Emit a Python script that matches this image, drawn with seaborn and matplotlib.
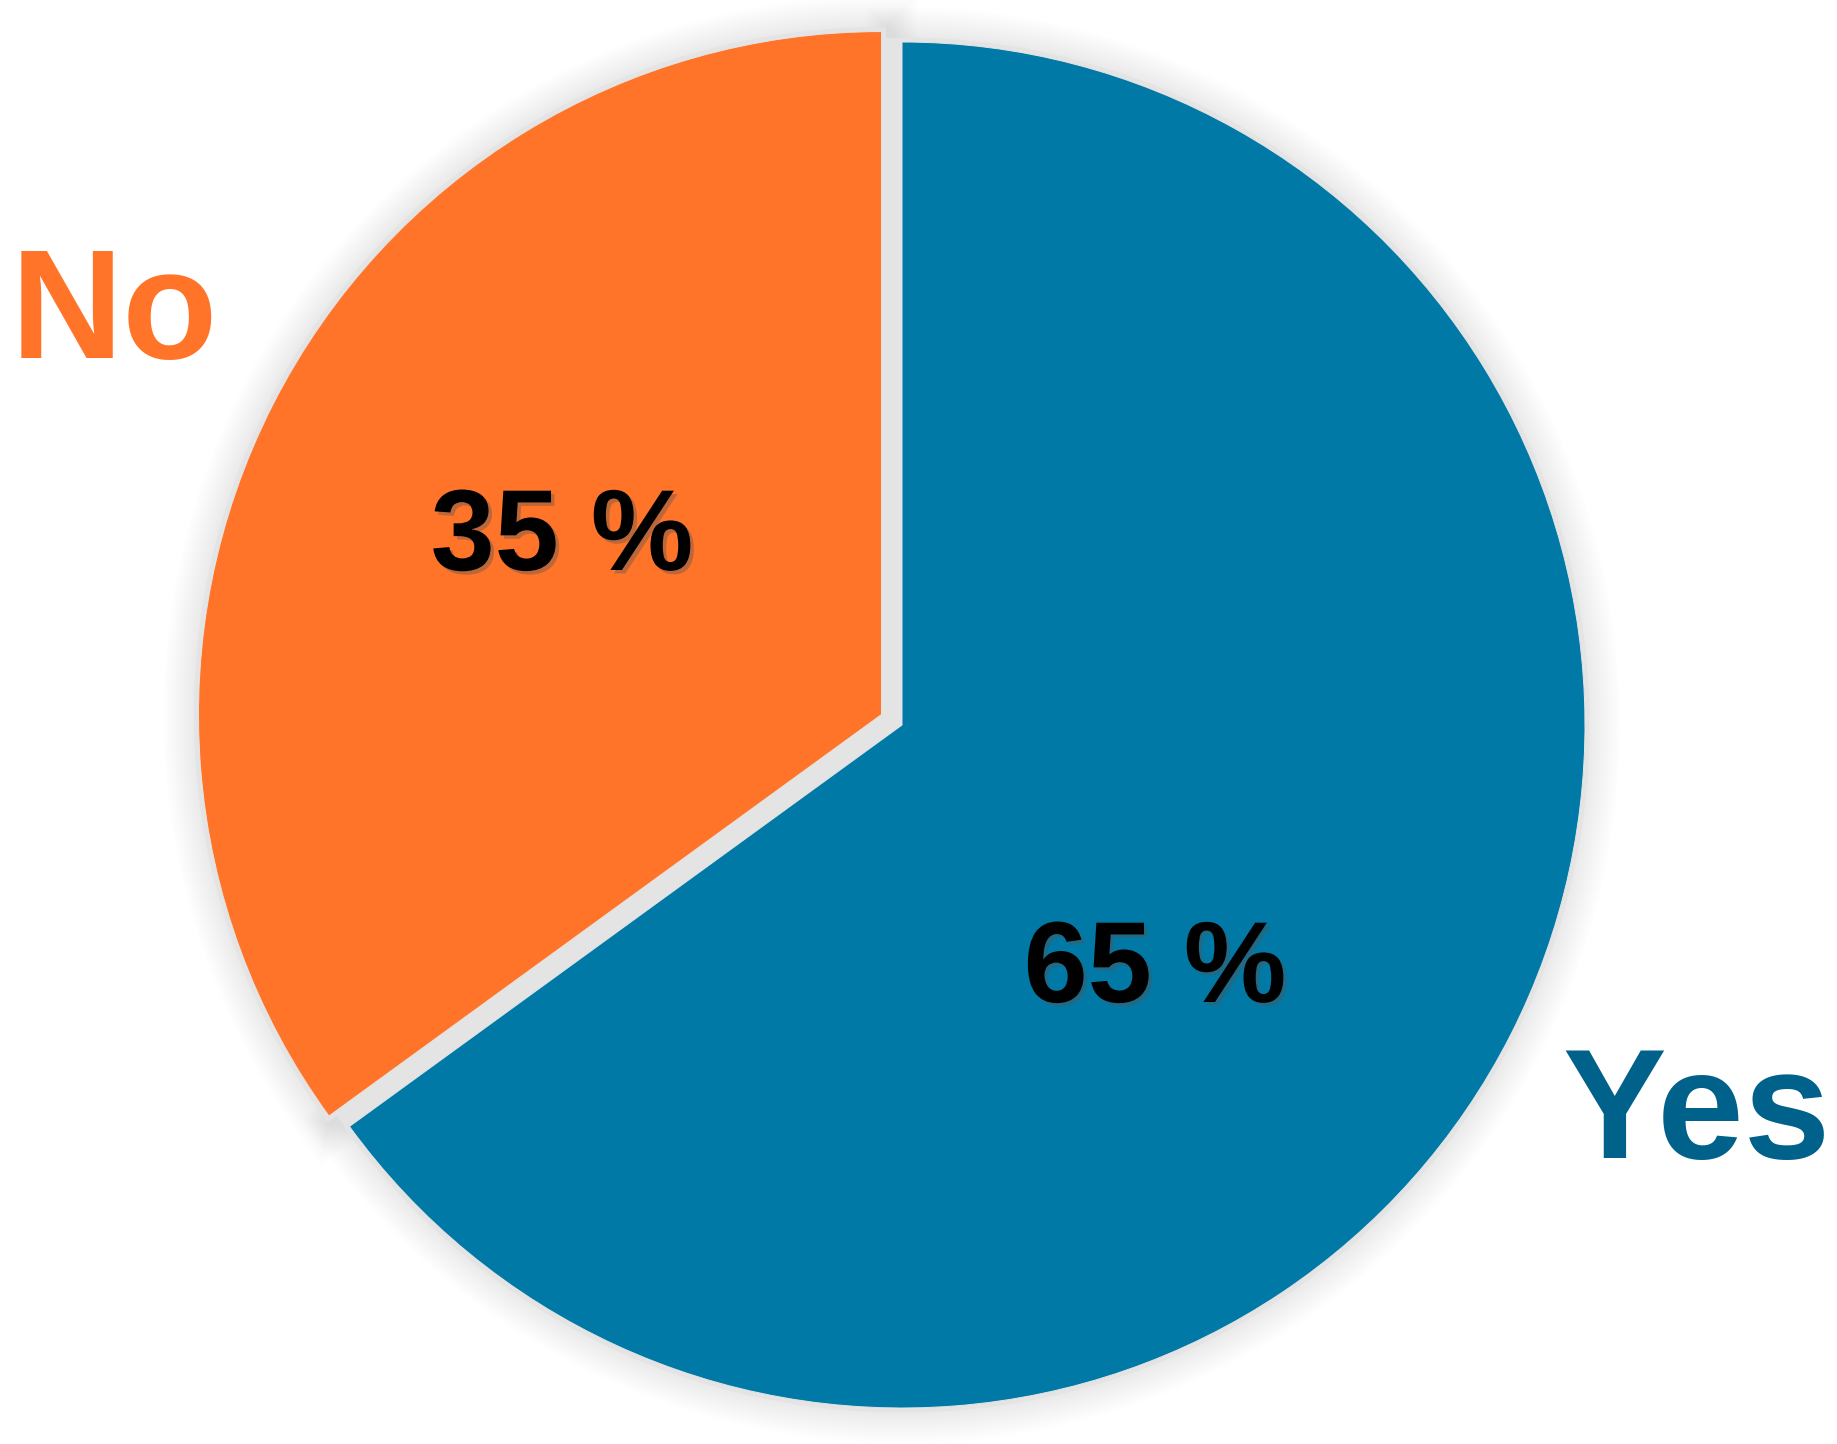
import matplotlib
matplotlib.use("Agg")
import matplotlib.pyplot as plt
import matplotlib.patheffects as pe
import seaborn as sns

categories = ["Yes", "No"]
values = [65, 35]
pct_labels = ["65 %", "35 %"]
colors = ["#0079A7", "#FF7429"]
name_colors = ["#00618A", "#FF7429"]

sns.set_theme(style="white")
plt.rcParams['font.family'] = ['Liberation Sans', 'DejaVu Sans']

W, H = 1837, 1444
fig = plt.figure(figsize=(W / 100, H / 100), dpi=100)
ax = fig.add_axes([0, 0, 1, 1])

cx, cy = 902, H - 725
R = 683
explode = [0, 23]  # matplotlib explode is in data units
px = 0.72  # points per pixel
gray = "#e4e4e4"

# soft shadow
for k in range(1, 22):
    ax.pie(values, radius=R, center=(cx, cy), startangle=90, counterclock=False,
           explode=explode, colors=["none", "none"],
           wedgeprops=dict(edgecolor=(0, 0, 0, 0.0045), linewidth=(8 + 3 * k) * px,
                           joinstyle="miter"))

# gray backing fill for the gap and the rim
ax.pie(values, radius=R, center=(cx, cy), startangle=90, counterclock=False,
       colors=[gray, gray], wedgeprops=dict(edgecolor=gray, linewidth=8 * px))
ax.pie(values, radius=R, center=(cx, cy), startangle=90, counterclock=False,
       explode=explode, colors=[gray, gray],
       wedgeprops=dict(edgecolor=gray, linewidth=9 * px))

wedges, _ = ax.pie(values, radius=R, center=(cx, cy), startangle=90, counterclock=False,
                   explode=explode, colors=colors,
                   wedgeprops=dict(edgecolor=gray, linewidth=1 * px))

shadow = [pe.withSimplePatchShadow(offset=(2.5, -2.5), shadow_rgbFace="#555555", alpha=0.4)]
pct_pos = [(1155, H - 972), (562, H - 540)]
for (x, y), t in zip(pct_pos, pct_labels):
    ax.text(x, y, t, ha="center", va="center", fontsize=83, fontweight="bold",
            color="black", path_effects=shadow)

name_pos = [(1696, H - 1118), (114, H - 318)]
for (x, y), t, c in zip(name_pos, categories, name_colors):
    ax.text(x, y, t, ha="center", va="center", fontsize=112, fontweight="bold", color=c)

ax.set_xlim(0, W)
ax.set_ylim(0, H)
ax.set_aspect("equal")
ax.axis("off")
fig.savefig("out.png", dpi=100, facecolor="white")
